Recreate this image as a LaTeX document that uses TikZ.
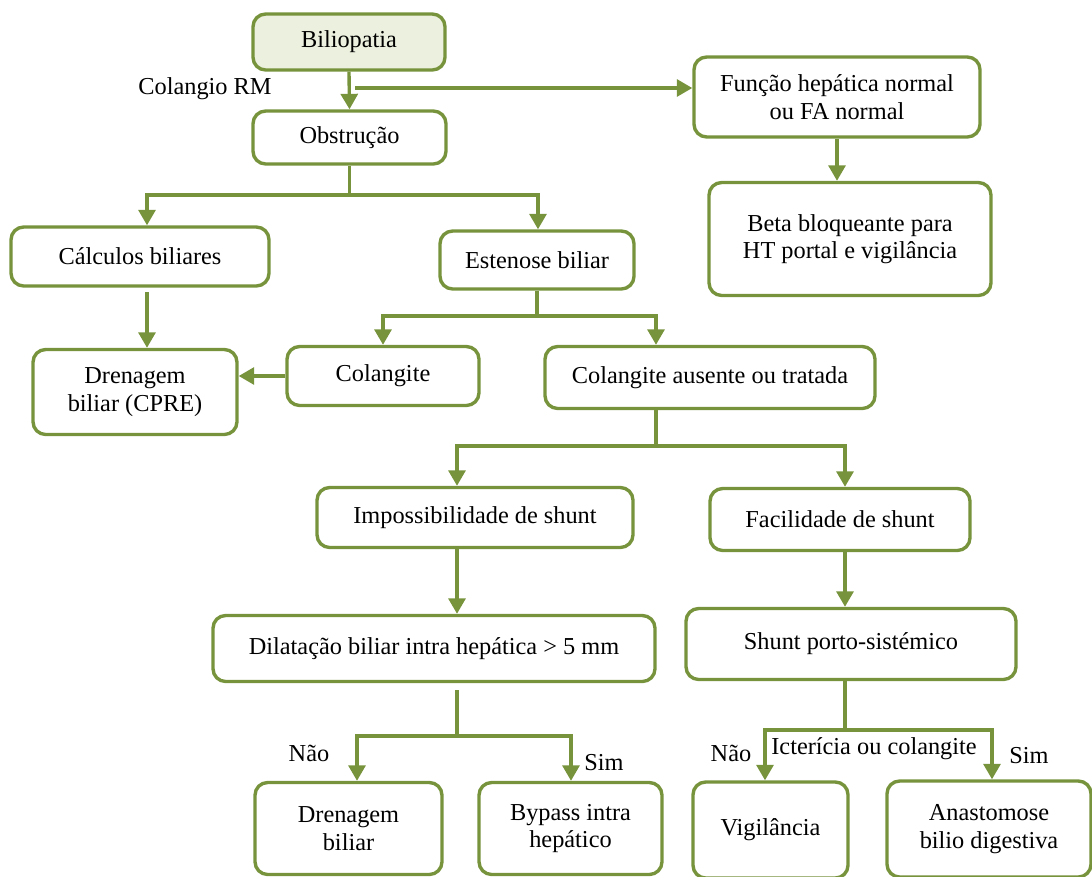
\documentclass[tikz,border=0pt]{standalone}
\usepackage{fontspec}
\setmainfont{Liberation Serif}
\newfontfamily\serifa{Liberation Serif}
\usetikzlibrary{arrows.meta}
\definecolor{olivelinha}{HTML}{77933C}
\definecolor{olivefundo}{HTML}{EBF1DE}
\tikzset{
	caixa/.style={draw=olivelinha,line width=2.4pt,rounded corners=9pt,fill=white,align=center,inner sep=2pt,font=\serifa\fontsize{17.3}{19.6}\selectfont},
	tam/.style 2 args={minimum width=#1*0.025cm,minimum height=#2*0.025cm},
	seta/.style={draw=olivelinha,line width=2.4pt,-{Triangle[length=11pt,width=12pt]}},
	rotulo/.style={font=\serifa\fontsize{17.3}{19.6}\selectfont,inner sep=0pt},
}
\begin{document}
\begin{tikzpicture}[x=0.025cm,y=-0.025cm]
		\clip (0,0) rectangle (1092,876);
%		\draw[help lines,step=50] (0,0) grid (1092,876);

		% caixas
		\node[caixa,tam={192}{56},fill=olivefundo] (bilio) at (349,42) {Biliopatia};
		\node[caixa,tam={193}{53}] (obst) at (349.5,137.5) {Obstrução};
		\node[caixa,tam={286}{80}] (funcao) at (837,97) {Função hepática normal\\ou FA normal};
		\node[caixa,tam={282}{113}] (beta) at (850,239) {Beta bloqueante para\\HT portal e vigilância};
		\node[caixa,tam={258}{59}] (calc) at (140,256.5) {Cálculos biliares};
		\node[caixa,tam={194}{58}] (est) at (537,260) {Estenose biliar};
		\node[caixa,tam={204}{85}] (dcpre) at (135,392) {Drenagem\\biliar (CPRE)};
		\node[caixa,tam={192}{59}] (colang) at (383,376) {Colangite};
		\node[caixa,tam={330}{62}] (ausente) at (710,377.5) {Colangite ausente ou tratada};
		\node[caixa,tam={316}{60}] (imposs) at (475,517.5) {Impossibilidade de shunt};
		\node[caixa,tam={260}{62}] (facil) at (840,519.5) {Facilidade de shunt};
		\node[caixa,tam={442}{66}] (dilat) at (434,648.5) {Dilatação biliar intra hepática > 5 mm};
		\node[caixa,tam={330}{71}] (shunt) at (851,644) {Shunt porto-sistémico};
		\node[caixa,tam={187}{92}] (dren) at (348.5,828.5) {Drenagem\\biliar};
		\node[caixa,tam={183}{92}] (bypass) at (570.5,828.5) {Bypass intra\\hepático};
		\node[caixa,tam={155}{96}] (vigil) at (770.5,830) {Vigilância};
		\node[caixa,tam={204}{96}] (anast) at (989,829) {Anastomose\\bilio digestiva};

		% rotulos
		\node[rotulo] (colrm) at (205,89) {Colangio RM};
		\node[rotulo] (nao1) at (309,753) {Não};
		\node[rotulo] (sim1) at (604,763) {Sim};
		\node[rotulo] (nao2) at (731,753) {Não};
		\node[rotulo] (icter) at (874,749) {Icterícia ou colangite};
		\node[rotulo] (sim2) at (1029,756) {Sim};

		% pontos de ramificacao
		\path (355,88) coordinate (rm);
		\path (147,195) coordinate (obst_l);
		\path (538,195) coordinate (obst_r);
		\path (383,316) coordinate (est_l);
		\path (656,316) coordinate (est_r);
		\path (457,446) coordinate (aus_l);
		\path (845,446) coordinate (aus_r);
		\path (457,736) coordinate (dil_m);
		\path (357,736) coordinate (dil_l);
		\path (571,736) coordinate (dil_r);
		\path (765,730) coordinate (shu_l);
		\path (992,730) coordinate (shu_r);

		% ligacoes
		\draw[seta] (bilio.south) -- (obst.north);
		\draw[seta] (rm) -- (funcao.west |- rm);
		\draw[seta] (funcao.south) -- (funcao.south |- beta.north);
		\draw[seta] (obst.south) |- (obst_l) -- (obst_l |- calc.north);
		\draw[seta] (obst.south) |- (obst_r) -- (obst_r |- est.north);
		\draw[seta] ([yshift=-3pt]obst_l |- calc.south) -- (obst_l |- dcpre.north);
		\draw[seta] (est.south) |- (est_l) -- (est_l |- colang.north);
		\draw[seta] (est.south) |- (est_r) -- (est_r |- ausente.north);
		\draw[seta] (colang.west) -- (dcpre.east |- colang.west);
		\draw[seta] (ausente.south -| est_r) |- (aus_l) -- (aus_l |- imposs.north);
		\draw[seta] (ausente.south -| est_r) |- (aus_r) -- (aus_r |- facil.north);
		\draw[seta] (aus_l |- imposs.south) -- (aus_l |- dilat.north);
		\draw[seta] (aus_r |- facil.south) -- (aus_r |- shunt.north);
		\draw[seta] ([yshift=-5pt]dil_m |- dilat.south) -- (dil_m) -| (dil_l |- dren.north);
		\draw[seta] ([yshift=-5pt]dil_m |- dilat.south) -- (dil_m) -| (dil_r |- bypass.north);
		\draw[seta] (shunt.south -| aus_r) |- (shu_l) -- (shu_l |- vigil.north);
		\draw[seta] (shunt.south -| aus_r) |- (shu_r) -- (shu_r |- anast.north);

	\end{tikzpicture}
\end{document}
